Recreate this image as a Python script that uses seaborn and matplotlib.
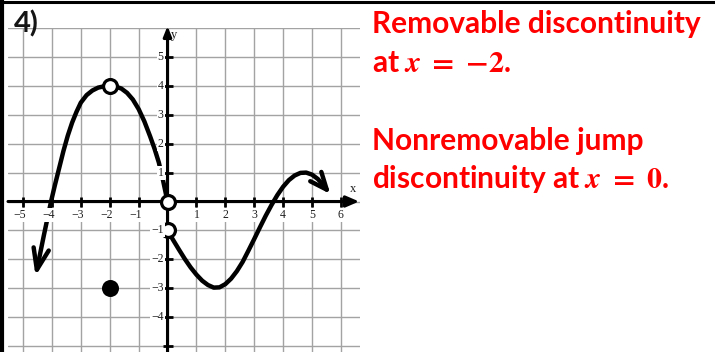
import math
import matplotlib
matplotlib.use("Agg")
import matplotlib.pyplot as plt
import seaborn as sns
from matplotlib.lines import Line2D

# ---------------- data ----------------
left_x = [-4.52, -4.28, -4.03, -3.90, -3.75, -3.60, -3.45, -3.30, -3.15, -3.00, -2.80,
          -2.60, -2.40, -2.20, -2.00, -1.80, -1.60, -1.40, -1.20, -1.00, -0.80, -0.60,
          -0.45, -0.30, -0.15, 0.00]
left_y = [-2.36, -1.18, 0.00, 0.55, 1.15, 1.75, 2.28, 2.73, 3.10, 3.42, 3.68,
          3.84, 3.94, 3.985, 4.00, 3.975, 3.91, 3.76, 3.53, 3.20, 2.77, 2.25,
          1.83, 1.35, 0.71, 0.00]
right_x = [0.00, 0.20, 0.40, 0.60, 0.80, 1.00, 1.20, 1.40, 1.60, 1.80, 2.00, 2.20, 2.40,
           2.60, 2.80, 3.00, 3.20, 3.40, 3.60, 3.80, 4.00, 4.20, 4.40, 4.60, 4.80, 5.00,
           5.20, 5.40, 5.51]
right_y = [-1.00, -1.34, -1.67, -1.99, -2.28, -2.53, -2.74, -2.89, -2.98, -2.97, -2.86,
           -2.67, -2.41, -2.09, -1.70, -1.30, -0.89, -0.49, -0.12, 0.22, 0.51, 0.74, 0.90,
           0.99, 1.00, 0.93, 0.78, 0.56, 0.41]
open_x = [-2, 0, 0]
open_y = [4, 0, -1]
closed_x = [-2]
closed_y = [-3]
xtick_vals = [-5, -4, -3, -2, -1, 1, 2, 3, 4, 5, 6]
ytick_vals = [5, 4, 3, 2, 1, -1, -2, -3, -4]
grid_vals_x = list(range(-5, 7))
grid_vals_y = list(range(-5, 7))
title_label = "4)"
note_lines = ["Removable discontinuity",
              r"at $\mathbfit{x}\ \mathbf{=}\ \mathbf{-2}$.",
              "Nonremovable jump",
              r"discontinuity at $\mathbfit{x}\ \mathbf{=}\ \mathbf{0}$."]

# ---------------- style ----------------
sns.set_theme(style="white")
plt.rcParams["font.family"] = ["DejaVu Sans"]
plt.rcParams["mathtext.fontset"] = "stix"

W, H = 715, 352
fig = plt.figure(figsize=(W / 100, H / 100), dpi=100)
fig.patch.set_facecolor("white")

s = 28.9          # pixels per unit
x0px, y0px = 167.5, 201.5
left_px, right_px, top_px = 8, 360, y0px - 6 * s
xmin, xmax = (left_px - x0px) / s, (right_px - x0px) / s
ymin, ymax = (y0px - H) / s, 6.0

ax = fig.add_axes([left_px / W, 0, (right_px - left_px) / W, (H - top_px) / H])
ax.set_xlim(xmin, xmax)
ax.set_ylim(ymin, ymax)
ax.set_xticks(grid_vals_x)
ax.set_yticks(grid_vals_y)
ax.tick_params(length=0, labelbottom=False, labelleft=False)
ax.grid(True, color="#a3a3a3", lw=1.0)
ax.set_axisbelow(True)
for sp in ax.spines.values():
    sp.set_visible(False)
ax.set_facecolor("white")

# axes with arrows
ax.annotate("", xy=(6.63, 0), xytext=(xmin, 0),
            arrowprops=dict(arrowstyle="-|>,head_length=0.65,head_width=0.28", lw=2.2,
                            color="black", shrinkA=0, shrinkB=0),
            annotation_clip=False, zorder=2)
ax.annotate("", xy=(0, 6.07), xytext=(0, ymin),
            arrowprops=dict(arrowstyle="-|>,head_length=0.5,head_width=0.2", lw=2.2,
                            color="black", shrinkA=0, shrinkB=0),
            annotation_clip=False, zorder=2)
ax.plot(grid_vals_x, [0] * len(grid_vals_x), ls="none", marker="|", ms=7, mew=2,
        color="black", zorder=2)
ax.plot([0] * 10, [v for v in range(-5, 6) if v != 0], ls="none", marker="_", ms=7,
        mew=2, color="black", zorder=2)

# curves
LW = 3.2
sns.lineplot(x=left_x, y=left_y, sort=False, estimator=None, color="black", lw=LW,
             ax=ax, zorder=2.5, solid_capstyle="round", solid_joinstyle="round")
sns.lineplot(x=right_x, y=right_y, sort=False, estimator=None, color="black", lw=LW,
             ax=ax, zorder=2.5, solid_capstyle="round", solid_joinstyle="round")


def arrow_head(tip, back, length, half_angle):
    a = math.atan2(back[1] - tip[1], back[0] - tip[0])
    h = math.radians(half_angle)
    xs = [tip[0] + length * math.cos(a + h), tip[0], tip[0] + length * math.cos(a - h)]
    ys = [tip[1] + length * math.sin(a + h), tip[1], tip[1] + length * math.sin(a - h)]
    ax.plot(xs, ys, color="black", lw=LW, solid_capstyle="round",
            solid_joinstyle="round", zorder=2.5)


arrow_head((left_x[0], left_y[0]), (left_x[2], left_y[2]), 0.78, 20)
arrow_head((right_x[-1], right_y[-1]), (right_x[-3], right_y[-3]), 0.64, 23)

# points
sns.scatterplot(x=closed_x, y=closed_y, s=150, color="black", linewidth=0, ax=ax, zorder=4)
sns.scatterplot(x=open_x, y=open_y, s=100, facecolor="white", edgecolor="black",
                linewidth=2.3, ax=ax, zorder=4)

# tick labels
lab = dict(family="Liberation Serif", fontsize=8.5, color="#1e1e1e",
           bbox=dict(facecolor="white", edgecolor="none", pad=0.8), zorder=5)
for v in xtick_vals:
    if v < 0:
        ax.text(v + 0.1, -0.467, f"\u2212{abs(v)}", ha="right", va="center", **lab)
    else:
        ax.text(v, -0.467, f"{v}", ha="center", va="center", **lab)
for v in ytick_vals:
    t = f"\u2212{abs(v)}" if v < 0 else f"{v}"
    ax.text(-0.13, v, t, ha="right", va="center", **lab)
ax.text(0.1, 5.76, "y", ha="left", va="center", family="Liberation Serif",
        fontsize=9, color="#1e1e1e", zorder=5)
ax.text(6.42, 0.42, "x", ha="center", va="center", family="Liberation Serif",
        fontsize=9, color="#1e1e1e", zorder=5)

# frame lines
fig.add_artist(Line2D([2 / W, 2 / W], [0, 1], color="black", lw=3.0))
fig.add_artist(Line2D([0, 1], [1 - 1.5 / H, 1 - 1.5 / H], color="black", lw=2.2))

# "4)" label
fig.text(14 / W, 1 - 32 / H, title_label, fontsize=21, fontweight="bold",
         family=["Lato", "DejaVu Sans"], color="#151515", va="baseline", ha="left")

# red notes
baselines = [33, 72, 150, 188]
for txt, b in zip(note_lines, baselines):
    fig.text(372 / W, 1 - b / H, txt, fontsize=21.5, fontweight="bold",
             family=["Lato", "DejaVu Sans"], color="#ff0000", va="baseline", ha="left")

fig.savefig("out.png", dpi=100, facecolor="white")
